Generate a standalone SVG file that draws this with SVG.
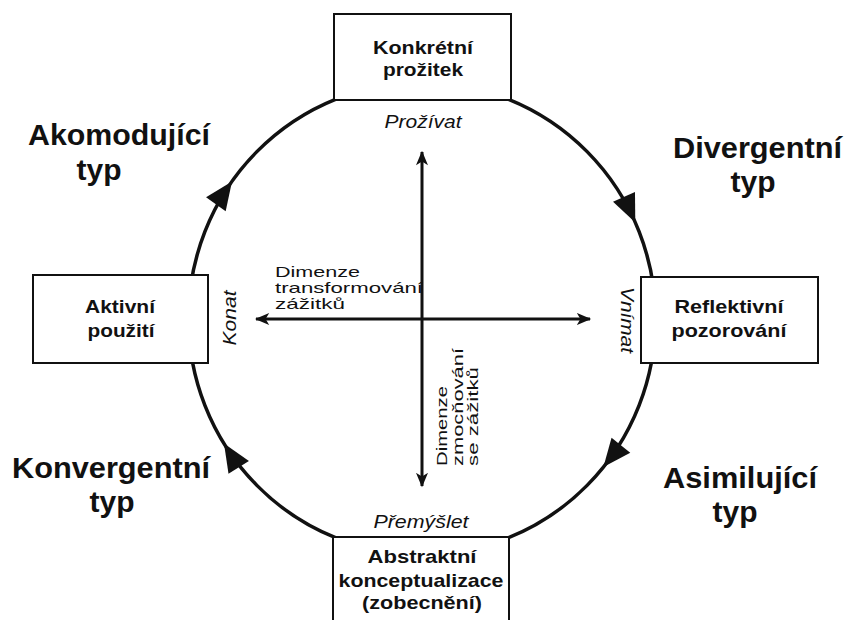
<svg xmlns="http://www.w3.org/2000/svg" width="846" height="620" viewBox="0 0 846 620">
<style>
.box{fill:#fff;stroke:#111;stroke-width:2}
.bt{font-family:"Liberation Sans",Arial,sans-serif;font-weight:bold;font-size:19px;fill:#111;text-anchor:middle}
.big{font-family:"Liberation Sans",Arial,sans-serif;font-weight:bold;font-size:30px;fill:#111}
.it{font-family:"Liberation Sans",Arial,sans-serif;font-style:italic;font-size:19px;fill:#111}
.dm{font-family:"Liberation Sans",Arial,sans-serif;font-size:15px;fill:#111}
.ln{fill:none;stroke:#111;stroke-width:3.5}
.ax{fill:none;stroke:#111;stroke-width:3}
</style>
<defs>
<path id="ah" d="M0,0 L-28,-12 L-28,12 Z" fill="#111"/>
<marker id="am" viewBox="0 0 12 10" refX="11" refY="5" markerWidth="5" markerHeight="4" orient="auto-start-reverse" markerUnits="strokeWidth">
<path d="M0,0 L12,5 L0,10 L3,5 Z" fill="#111"/>
</marker>
</defs>
<rect width="846" height="620" fill="#fff"/>
<g id="connectors">
<ellipse class="ln" cx="422" cy="318.5" rx="233.5" ry="236"/>
<use href="#ah" transform="translate(232,181.4) rotate(-54.8)"/>
<use href="#ah" transform="translate(635.3,222.5) rotate(66.2)"/>
<use href="#ah" transform="translate(603.4,467) rotate(128.7)"/>
<use href="#ah" transform="translate(224,443.6) rotate(-121.7)"/>
<line class="ax" x1="422" y1="152" x2="422" y2="486" marker-start="url(#am)" marker-end="url(#am)"/>
<line class="ax" x1="256" y1="319" x2="590" y2="319" marker-start="url(#am)" marker-end="url(#am)"/>
</g>
<g id="konkretni">
<rect class="box" x="334" y="14" width="177" height="86"/>
<text class="bt" x="423" y="54" textLength="100" lengthAdjust="spacingAndGlyphs">Konkrétní</text>
<text class="bt" x="423" y="76" textLength="80" lengthAdjust="spacingAndGlyphs">prožitek</text>
</g>
<g id="reflektivni">
<rect class="box" x="641" y="277" width="177" height="86"/>
<text class="bt" x="729" y="313" textLength="109" lengthAdjust="spacingAndGlyphs">Reflektivní</text>
<text class="bt" x="729" y="337" textLength="115" lengthAdjust="spacingAndGlyphs">pozorování</text>
</g>
<g id="aktivni">
<rect class="box" x="33" y="275" width="175" height="88"/>
<text class="bt" x="120" y="313" textLength="70" lengthAdjust="spacingAndGlyphs">Aktivní</text>
<text class="bt" x="121" y="337" textLength="67" lengthAdjust="spacingAndGlyphs">použití</text>
</g>
<g id="abstraktni">
<rect class="box" x="333" y="537" width="176" height="100"/>
<text class="bt" x="422" y="563" textLength="109" lengthAdjust="spacingAndGlyphs">Abstraktní</text>
<text class="bt" x="421" y="587" textLength="165" lengthAdjust="spacingAndGlyphs">konceptualizace</text>
<text class="bt" x="422" y="609" textLength="120" lengthAdjust="spacingAndGlyphs">(zobecnění)</text>
</g>
<g id="akomodujici">
<text class="big" x="28" y="145" textLength="182" lengthAdjust="spacingAndGlyphs">Akomodující</text>
<text class="big" x="99" y="180" text-anchor="middle">typ</text>
</g>
<g id="divergentni">
<text class="big" x="673" y="158" textLength="169" lengthAdjust="spacingAndGlyphs">Divergentní</text>
<text class="big" x="753" y="192" text-anchor="middle">typ</text>
</g>
<g id="konvergentni">
<text class="big" x="12" y="478" textLength="198" lengthAdjust="spacingAndGlyphs">Konvergentní</text>
<text class="big" x="112" y="512" text-anchor="middle">typ</text>
</g>
<g id="asimilujici">
<text class="big" x="663" y="488" textLength="154" lengthAdjust="spacingAndGlyphs">Asimilující</text>
<text class="big" x="735" y="522" text-anchor="middle">typ</text>
</g>
<g id="labels">
<text class="it" x="423" y="128" text-anchor="middle" textLength="77" lengthAdjust="spacingAndGlyphs">Prožívat</text>
<text class="it" x="421" y="528" text-anchor="middle" textLength="95" lengthAdjust="spacingAndGlyphs">Přemýšlet</text>
<text class="it" transform="translate(236,318) rotate(-90)" text-anchor="middle" textLength="55" lengthAdjust="spacingAndGlyphs">Konat</text>
<text class="it" transform="translate(621,320) rotate(90)" text-anchor="middle" textLength="66" lengthAdjust="spacingAndGlyphs">Vnímat</text>
<text class="dm" x="275" y="277" textLength="85" lengthAdjust="spacingAndGlyphs">Dimenze</text>
<text class="dm" x="275" y="293" textLength="148" lengthAdjust="spacingAndGlyphs">transformování</text>
<text class="dm" x="275" y="309" textLength="70" lengthAdjust="spacingAndGlyphs">zážitků</text>
<g transform="translate(447,466) rotate(-90)">
<text class="dm" x="0" y="0" textLength="80" lengthAdjust="spacingAndGlyphs">Dimenze</text>
<text class="dm" x="0" y="15.5" textLength="118" lengthAdjust="spacingAndGlyphs">zmocňování</text>
<text class="dm" x="0" y="31" textLength="99" lengthAdjust="spacingAndGlyphs">se zážitků</text>
</g>
</g>
</svg>
